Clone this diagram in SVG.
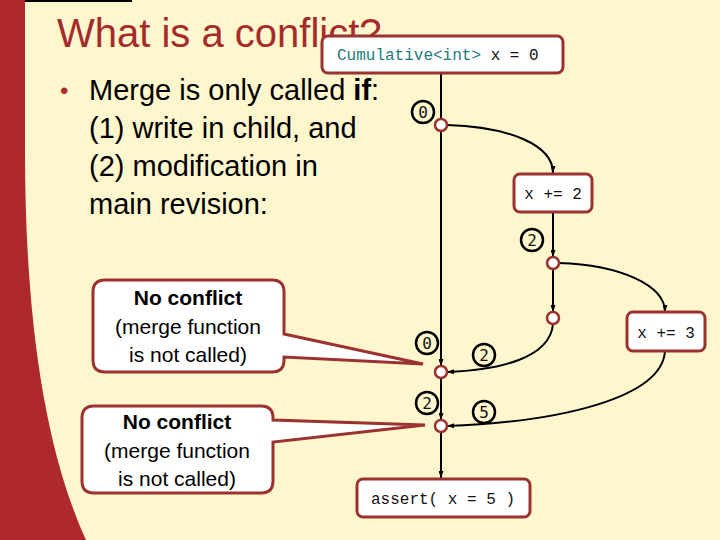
<svg xmlns="http://www.w3.org/2000/svg" width="720" height="540" viewBox="0 0 720 540">
<defs>
<style>
.box{fill:#fff;stroke:#9B3230;stroke-width:3}
.node{fill:#fff;stroke:#9B3230;stroke-width:2.5}
.lbl{fill:none;stroke:#000;stroke-width:2.5}
.edge{fill:none;stroke:#000;stroke-width:2}
.mono{font-family:"Liberation Mono","DejaVu Sans Mono",monospace;font-size:16px;fill:#111}
.lm{font-family:"DejaVu Sans Mono","Liberation Mono",monospace;font-size:16px;fill:#111;text-anchor:middle}
.body{font-family:"Liberation Sans",Arial,sans-serif;font-size:29px;fill:#000}
.call{font-family:"Liberation Sans",Arial,sans-serif;font-size:21px;fill:#000;text-anchor:middle}
</style>
<marker id="arr" viewBox="0 0 7 5" refX="7" refY="2.5" markerWidth="7" markerHeight="5" markerUnits="userSpaceOnUse" orient="auto">
<path d="M0,0 L7,2.5 L0,5 z" fill="#000"/>
</marker>
</defs>
<rect width="720" height="540" fill="#FEF6CD"/>
<path d="M0,0 H25 V150 C25,320 45,450 86,540 H0 Z" fill="#AE2A2A"/>
<rect x="25" y="0" width="107" height="2" fill="#000"/>
<text x="57" y="47" font-family="'Liberation Sans',Arial,sans-serif" font-size="40" fill="#A52B2B">What is a conflict?</text>
<text x="60" y="99" font-family="'Liberation Sans',Arial,sans-serif" font-size="24" fill="#AE2A2A">•</text>
<text class="body" x="89" y="100">Merge is only called <tspan font-weight="bold">if</tspan>:</text>
<text class="body" x="89" y="138">(1) write in child, and</text>
<text class="body" x="89" y="176">(2) modification in</text>
<text class="body" x="89" y="214">main revision:</text>

<g id="connectors">
<path class="edge" d="M441,73 L441,119"/>
<path class="edge" d="M441,131 L441,366" marker-end="url(#arr)"/>
<path class="edge" d="M441,378 L441,420" marker-end="url(#arr)"/>
<path class="edge" d="M441,432 L441,478" marker-end="url(#arr)"/>
<path class="edge" d="M447,125 C510,127 553,145 553,173" marker-end="url(#arr)"/>
<path class="edge" d="M553,212 L553,257" marker-end="url(#arr)"/>
<path class="edge" d="M553,269 L553,312" marker-end="url(#arr)"/>
<path class="edge" d="M559,263 C620,265 665,285 665,312" marker-end="url(#arr)"/>
<path class="edge" d="M553,324 C550,358 500,370 447,372" marker-end="url(#arr)"/>
<path class="edge" d="M665,351 C662,398 560,422 447,426" marker-end="url(#arr)"/>
</g>

<g id="decl">
<rect class="box" x="322" y="36" width="241" height="37" rx="6"/>
<text class="mono" x="337" y="60"><tspan fill="#217A7A">Cumulative&lt;int&gt;</tspan> x = 0</text>
</g>
<g id="n0"><circle class="node" cx="441" cy="125" r="6"/></g>
<g id="l0a"><circle class="lbl" cx="423" cy="112" r="11"/><text class="lm" x="423" y="118">0</text></g>
<g id="add2">
<rect class="box" x="514" y="174" width="78" height="38" rx="6"/>
<text class="mono" x="553" y="199" text-anchor="middle">x += 2</text>
</g>
<g id="l2a"><circle class="lbl" cx="532" cy="240" r="11"/><text class="lm" x="532" y="246">2</text></g>
<g id="n2a"><circle class="node" cx="553" cy="263" r="6"/></g>
<g id="n2b"><circle class="node" cx="553" cy="318" r="6"/></g>
<g id="add3">
<rect class="box" x="627" y="312" width="78" height="39" rx="6"/>
<text class="mono" x="666" y="338" text-anchor="middle">x += 3</text>
</g>
<g id="l0b"><circle class="lbl" cx="427" cy="343" r="11"/><text class="lm" x="427" y="349">0</text></g>
<g id="l2b"><circle class="lbl" cx="484" cy="355" r="11"/><text class="lm" x="484" y="361">2</text></g>
<g id="m1"><circle class="node" cx="441" cy="372" r="6"/></g>
<g id="l2c"><circle class="lbl" cx="427" cy="403" r="11"/><text class="lm" x="427" y="409">2</text></g>
<g id="l5"><circle class="lbl" cx="484" cy="412" r="11"/><text class="lm" x="484" y="418">5</text></g>
<g id="m2"><circle class="node" cx="441" cy="426" r="6"/></g>
<g id="assert">
<rect class="box" x="357" y="479" width="173" height="38" rx="6"/>
<text class="mono" x="443" y="504" text-anchor="middle">assert( x = 5 )</text>
</g>

<g id="callout1">
<path class="box" d="M105,280 H272 Q284,280 284,292 V334 L423,364 L284,357 V360 Q284,372 272,372 H105 Q93,372 93,360 V292 Q93,280 105,280 Z"/>
<text class="call" x="188" y="305" font-weight="bold">No conflict</text>
<text class="call" x="188" y="334">(merge function</text>
<text class="call" x="188" y="362">is not called)</text>
</g>
<g id="callout2">
<path class="box" d="M94,406 H261 Q273,406 273,418 V420 L425,425 L273,442 V481 Q273,493 261,493 H94 Q82,493 82,481 V418 Q82,406 94,406 Z"/>
<text class="call" x="177" y="429" font-weight="bold">No conflict</text>
<text class="call" x="177" y="458">(merge function</text>
<text class="call" x="177" y="486">is not called)</text>
</g>
</svg>
